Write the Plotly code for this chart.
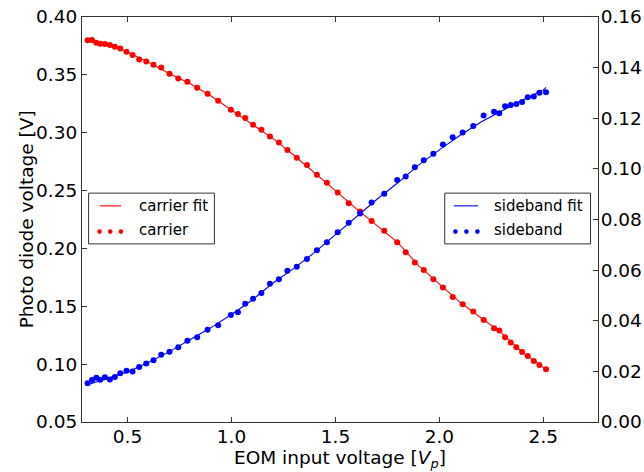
import plotly.graph_objects as go

# ---------------- data ----------------
eom_voltage = [0.308, 0.329, 0.350, 0.369, 0.391, 0.415, 0.439, 0.465, 0.495, 0.524,
               0.556, 0.590, 0.625, 0.662, 0.702, 0.744, 0.788, 0.835, 0.885, 0.936,
               0.997, 1.031, 1.066, 1.104, 1.144, 1.185, 1.228, 1.269, 1.314, 1.363,
               1.411, 1.459, 1.511, 1.564, 1.619, 1.674, 1.735, 1.797, 1.838, 1.882,
               1.925, 1.971, 2.017, 2.064, 2.112, 2.163, 2.213, 2.263, 2.288, 2.316,
               2.343, 2.370, 2.398, 2.425, 2.454, 2.481, 2.513]

carrier = [0.3798, 0.3801, 0.3778, 0.3769, 0.3766, 0.3758, 0.3743, 0.3728, 0.3700, 0.3671,
           0.3633, 0.3616, 0.3587, 0.3564, 0.3510, 0.3469, 0.3440, 0.3389, 0.3337, 0.3276,
           0.3198, 0.3161, 0.3127, 0.3069, 0.3025, 0.2967, 0.2916, 0.2850, 0.2783, 0.2720,
           0.2636, 0.2567, 0.2483, 0.2390, 0.2320, 0.2238, 0.2152, 0.2054, 0.1966, 0.1879,
           0.1813, 0.1734, 0.1663, 0.1581, 0.1518, 0.1454, 0.1382, 0.1310, 0.1290, 0.1233,
           0.1186, 0.1146, 0.1105, 0.1071, 0.1028, 0.0993, 0.0956]

sideband = [0.0153, 0.0166, 0.0175, 0.0167, 0.0177, 0.0168, 0.0178, 0.0193, 0.0202, 0.0200,
            0.0217, 0.0231, 0.0244, 0.0266, 0.0278, 0.0295, 0.0321, 0.0335, 0.0364, 0.0382,
            0.0423, 0.0434, 0.0467, 0.0487, 0.0510, 0.0546, 0.0564, 0.0598, 0.0613, 0.0644,
            0.0679, 0.0710, 0.0750, 0.0787, 0.0824, 0.0867, 0.0902, 0.0956, 0.0970, 0.1006,
            0.1034, 0.1060, 0.1096, 0.1125, 0.1144, 0.1169, 0.1211, 0.1226, 0.1220, 0.1247,
            0.1252, 0.1256, 0.1264, 0.1283, 0.1286, 0.1301, 0.1303]

fit_voltage = [0.308, 0.4, 0.5, 0.6, 0.7, 0.8, 0.9, 1.0, 1.1, 1.2, 1.3, 1.4,
               1.5, 1.6, 1.7, 1.8, 1.9, 2.0, 2.1, 2.2, 2.3, 2.4, 2.5, 2.513]
carrier_fit = [0.3800, 0.3765, 0.3698, 0.3610, 0.3512, 0.3425, 0.3320, 0.3198, 0.3075,
               0.2949, 0.2805, 0.2655, 0.2500, 0.2344, 0.2200, 0.2050, 0.1852, 0.1689,
               0.1534, 0.1401, 0.1268, 0.1102, 0.0970, 0.0955]
sideband_fit = [0.0147, 0.0170, 0.0198, 0.0235, 0.0277, 0.0325, 0.0372, 0.0425, 0.0482,
                0.0549, 0.0607, 0.0670, 0.0740, 0.0810, 0.0880, 0.0945, 0.1015, 0.1075,
                0.1133, 0.1185, 0.1230, 0.1272, 0.1312, 0.1322]

x_ticks = [0.5, 1.0, 1.5, 2.0, 2.5]
y_left_ticks = [0.05, 0.10, 0.15, 0.20, 0.25, 0.30, 0.35, 0.40]
y_right_ticks = [0.00, 0.02, 0.04, 0.06, 0.08, 0.10, 0.12, 0.14, 0.16]

RED = "#ff0000"
BLUE = "#0000ff"
FONT = "DejaVu Sans"
AX = "#333333"

fig = go.Figure()
fig.add_trace(go.Scatter(x=fit_voltage, y=carrier_fit, mode="lines",
                         line=dict(color=RED, width=1.1), name="carrier fit",
                         showlegend=False, yaxis="y"))
fig.add_trace(go.Scatter(x=eom_voltage, y=carrier, mode="markers",
                         marker=dict(color=RED, size=6), name="carrier",
                         showlegend=False, yaxis="y"))
fig.add_trace(go.Scatter(x=fit_voltage, y=sideband_fit, mode="lines",
                         line=dict(color=BLUE, width=1.1), name="sideband fit",
                         showlegend=False, yaxis="y2"))
fig.add_trace(go.Scatter(x=eom_voltage, y=sideband, mode="markers",
                         marker=dict(color=BLUE, size=6), name="sideband",
                         showlegend=False, yaxis="y2"))

tickfont = dict(family=FONT, size=18.5, color="black")

# ----- manual matplotlib-style legends (paper coordinates) -----
shapes = []
annotations = []


def legend(x0, x1, y0, y1, line_x0, line_x1, dot_xs, text_x, color, labels):
    shapes.append(dict(type="rect", xref="paper", yref="paper", x0=x0, x1=x1, y0=y0, y1=y1,
                       line=dict(color=AX, width=1), fillcolor="white", layer="above"))
    y_line = 0.5337
    y_dot = 0.4702
    shapes.append(dict(type="line", xref="paper", yref="paper", x0=line_x0, x1=line_x1,
                       y0=y_line, y1=y_line, line=dict(color=color, width=1.1), layer="above"))
    rx, ry = 0.0045, 0.0058
    for dx in dot_xs:
        shapes.append(dict(type="circle", xref="paper", yref="paper",
                           x0=dx - rx, x1=dx + rx, y0=y_dot - ry, y1=y_dot + ry,
                           fillcolor=color, line=dict(color=color, width=0), layer="above"))
    for lab, yy in zip(labels, [y_line, y_dot + 0.003]):
        annotations.append(dict(text=lab, xref="paper", yref="paper", x=text_x, y=yy,
                                xanchor="left", yanchor="middle", showarrow=False,
                                font=dict(family=FONT, size=15, color="black")))


legend(0.0128, 0.2566, 0.4398, 0.5651, 0.0341, 0.0760, [0.034, 0.0548, 0.0755], 0.1065,
       RED, ["carrier fit", "carrier"])
legend(0.7030, 0.9855, 0.4398, 0.5651, 0.7210, 0.7674, [0.7237, 0.7450, 0.7663], 0.7948,
       BLUE, ["sideband fit", "sideband"])

# axis titles as paper-anchored text so they sit exactly where the reference has them
annotations.append(dict(text="EOM input voltage [<i>V</i><sub><i>p</i></sub>]",
                        xref="paper", yref="paper", x=0.5, y=-0.056, xanchor="center",
                        yanchor="top", showarrow=False,
                        font=dict(family=FONT, size=18.5, color="black")))
annotations.append(dict(text="Photo diode voltage [V]", textangle=-90,
                        xref="paper", yref="paper", x=-0.107, y=0.5, xanchor="center",
                        yanchor="middle", showarrow=False,
                        font=dict(family=FONT, size=18.5, color="black")))

fig.update_layout(
    template="none",
    width=644, height=472,
    margin=dict(l=82, r=46, t=17, b=50, pad=0),
    paper_bgcolor="white", plot_bgcolor="white",
    showlegend=False,
    font=dict(family=FONT, color="black"),
    xaxis=dict(range=[0.281, 2.763], tickvals=x_ticks, ticktext=[f"{v:.1f}" for v in x_ticks],
               ticks="inside", ticklen=5, tickcolor=AX, showline=True, linecolor=AX, linewidth=1,
               mirror="ticks", showgrid=False, zeroline=False, tickfont=tickfont,
               automargin=False, ticklabelstandoff=-2),
    yaxis=dict(range=[0.05, 0.40], tickvals=y_left_ticks,
               ticktext=[f"{v:.2f}" for v in y_left_ticks],
               ticks="inside", ticklen=5, tickcolor=AX, showline=True, linecolor=AX, linewidth=1,
               showgrid=False, zeroline=False, tickfont=tickfont, automargin=False),
    yaxis2=dict(range=[0.0, 0.16], tickvals=y_right_ticks,
                ticktext=[f"{v:.2f}" for v in y_right_ticks],
                overlaying="y", side="right",
                ticks="inside", ticklen=5, tickcolor=AX, showline=True, linecolor=AX, linewidth=1,
                showgrid=False, zeroline=False, tickfont=tickfont, automargin=False,
                ticklabelstandoff=-2),
    shapes=shapes,
    annotations=annotations,
)

fig.write_html("out.html",
               config=dict(displayModeBar=False, staticPlot=True),
               post_script="document.body.style.margin='0';document.body.style.overflow='hidden';")
